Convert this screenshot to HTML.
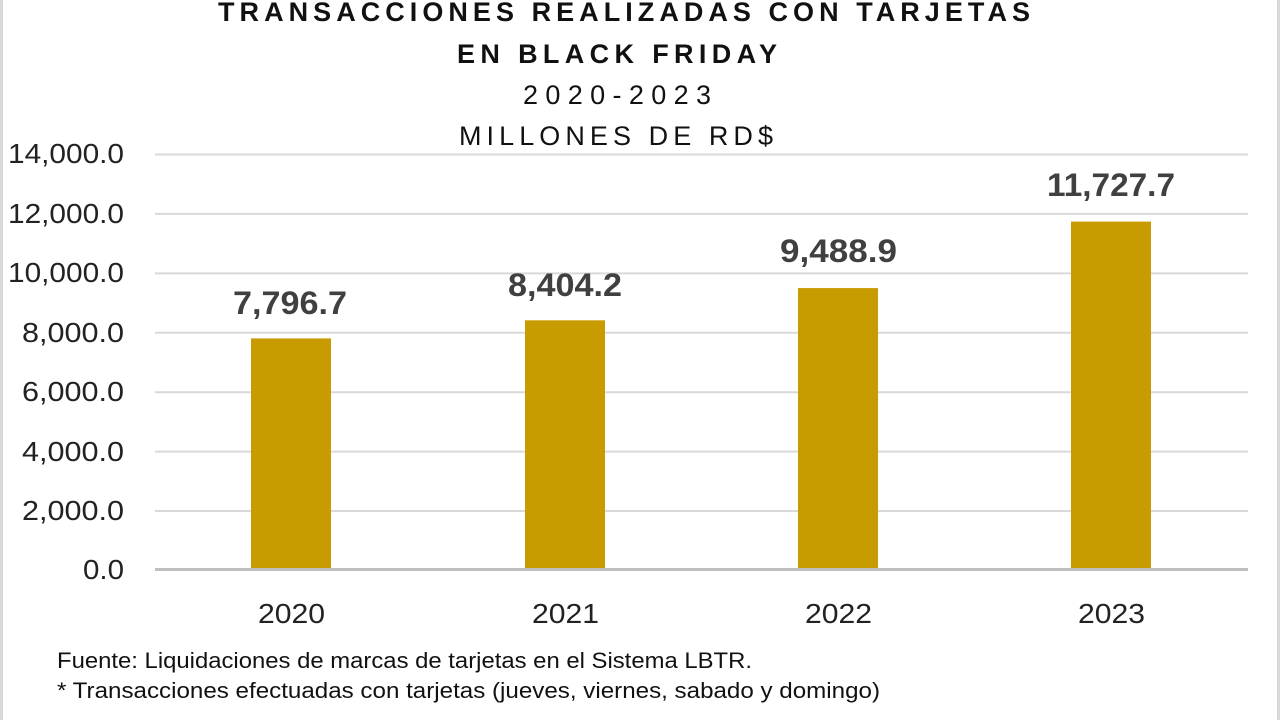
<!DOCTYPE html>
<html><head><meta charset="utf-8"><style>
html,body{margin:0;padding:0;background:#fff;}
svg{display:block;}
</style></head><body>
<svg width="1280" height="720" xmlns="http://www.w3.org/2000/svg" font-family="Liberation Sans, sans-serif">
<rect x="0" y="0" width="1280" height="720" fill="#fff"/>
<rect x="0" y="0" width="3" height="720" fill="#d9d9d9"/>
<rect x="1277" y="0" width="3" height="720" fill="#d9d9d9"/>
<g fill="#111">
<text x="218" y="21" font-size="27" font-weight="bold" textLength="812" lengthAdjust="spacing">TRANSACCIONES REALIZADAS CON TARJETAS</text>
<text x="457" y="63" font-size="27" font-weight="bold" textLength="320" lengthAdjust="spacing">EN BLACK FRIDAY</text>
<text x="523" y="104" font-size="27" textLength="188" lengthAdjust="spacing">2020-2023</text>
<text x="459" y="145" font-size="27" textLength="314" lengthAdjust="spacing">MILLONES DE RD$</text>
</g>
<g stroke="#d9d9d9" stroke-width="2">
<line x1="155" x2="1248" y1="154.5" y2="154.5"/>
<line x1="155" x2="1248" y1="213.9" y2="213.9"/>
<line x1="155" x2="1248" y1="273.4" y2="273.4"/>
<line x1="155" x2="1248" y1="332.8" y2="332.8"/>
<line x1="155" x2="1248" y1="392.2" y2="392.2"/>
<line x1="155" x2="1248" y1="451.6" y2="451.6"/>
<line x1="155" x2="1248" y1="511" y2="511"/>
</g>
<g fill="#c89b00">
<rect x="251" y="338.4" width="80" height="231.6"/>
<rect x="525" y="320.3" width="80" height="249.7"/>
<rect x="798" y="288.1" width="80" height="281.9"/>
<rect x="1071" y="221.6" width="80" height="348.4"/>
</g>
<line x1="155" x2="1248" y1="569.5" y2="569.5" stroke="#bfbfbf" stroke-width="3"/>
<g font-size="28" fill="#222">
<text x="8" y="163" textLength="116" lengthAdjust="spacingAndGlyphs">14,000.0</text>
<text x="8" y="223" textLength="116" lengthAdjust="spacingAndGlyphs">12,000.0</text>
<text x="8" y="282" textLength="116" lengthAdjust="spacingAndGlyphs">10,000.0</text>
<text x="22" y="342" textLength="102" lengthAdjust="spacingAndGlyphs">8,000.0</text>
<text x="22" y="401" textLength="102" lengthAdjust="spacingAndGlyphs">6,000.0</text>
<text x="22" y="461" textLength="102" lengthAdjust="spacingAndGlyphs">4,000.0</text>
<text x="22" y="520" textLength="102" lengthAdjust="spacingAndGlyphs">2,000.0</text>
<text x="83" y="579" textLength="41" lengthAdjust="spacingAndGlyphs">0.0</text>
</g>
<g font-size="28" fill="#222">
<text x="258" y="623" textLength="67" lengthAdjust="spacingAndGlyphs">2020</text>
<text x="532" y="623" textLength="67" lengthAdjust="spacingAndGlyphs">2021</text>
<text x="805" y="623" textLength="67" lengthAdjust="spacingAndGlyphs">2022</text>
<text x="1078" y="623" textLength="67" lengthAdjust="spacingAndGlyphs">2023</text>
</g>
<g font-size="32" font-weight="bold" fill="#404040">
<text x="233" y="314" textLength="114" lengthAdjust="spacingAndGlyphs">7,796.7</text>
<text x="508" y="296" textLength="114" lengthAdjust="spacingAndGlyphs">8,404.2</text>
<text x="780" y="262" textLength="117" lengthAdjust="spacingAndGlyphs">9,488.9</text>
<text x="1047" y="196" textLength="128" lengthAdjust="spacingAndGlyphs">11,727.7</text>
</g>
<g font-size="22" fill="#111">
<text x="57" y="668" textLength="695" lengthAdjust="spacingAndGlyphs">Fuente: Liquidaciones de marcas de tarjetas en el Sistema LBTR.</text>
<text x="57" y="698" textLength="823" lengthAdjust="spacingAndGlyphs">* Transacciones efectuadas con tarjetas (jueves, viernes, sabado y domingo)</text>
</g>
</svg>
</body></html>
